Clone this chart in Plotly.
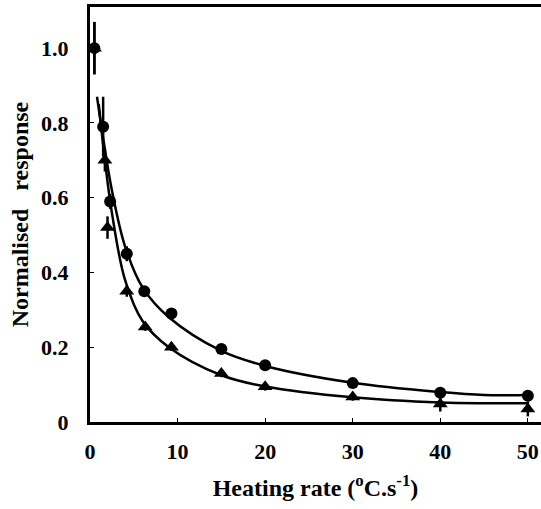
import plotly.graph_objects as go

# Data
circ_x = [0.5, 1.5, 2.3, 4.2, 6.2, 9.3, 15, 20, 30, 40, 50]
circ_y = [1.0, 0.79, 0.59, 0.45, 0.35, 0.29, 0.195, 0.152, 0.104, 0.078, 0.07]
circ_err = [0.07, 0.08, 0.02, 0.02, 0.01, 0.015, 0.01, 0.01, 0.01, 0.01, 0.01]

tri_x = [0.5, 1.7, 2.0, 4.2, 6.3, 9.3, 15, 20, 30, 40, 50]
tri_y = [1.0, 0.70, 0.52, 0.35, 0.254, 0.2, 0.13, 0.094, 0.067, 0.048, 0.035]
tri_err = [0.07, 0.03, 0.03, 0.015, 0.01, 0.01, 0.01, 0.01, 0.01, 0.02, 0.02]

fit1_x = [0.8, 1.5, 2.5, 4, 6, 9, 15, 20, 30, 40, 45, 50]
fit1_y = [0.87, 0.76, 0.62, 0.47, 0.36, 0.28, 0.19, 0.15, 0.105, 0.08, 0.072, 0.072]

fit2_x = [1.0, 1.7, 2.5, 4, 6, 9, 15, 20, 30, 40, 45, 50]
fit2_y = [0.85, 0.70, 0.56, 0.38, 0.27, 0.2, 0.125, 0.095, 0.066, 0.052, 0.05, 0.05]

x_ticks = [0, 10, 20, 30, 40, 50]
y_ticks = [0, 0.2, 0.4, 0.6, 0.8, 1.0]
y_tick_text = ["0", "0.2", "0.4", "0.6", "0.8", "1.0"]

fig = go.Figure()
fig.add_trace(go.Scatter(x=fit1_x, y=fit1_y, mode="lines", line=dict(color="black", width=2.5, shape="spline"), showlegend=False))
fig.add_trace(go.Scatter(x=fit2_x, y=fit2_y, mode="lines", line=dict(color="black", width=2.5, shape="spline"), showlegend=False))
fig.add_trace(go.Scatter(x=circ_x, y=circ_y, mode="markers",
                         marker=dict(symbol="circle", size=12, color="black"),
                         error_y=dict(type="data", array=circ_err, color="black", thickness=2.5, width=0),
                         showlegend=False))
fig.add_trace(go.Scatter(x=tri_x, y=tri_y, mode="markers",
                         marker=dict(symbol="triangle-up", size=13, color="black"),
                         error_y=dict(type="data", array=tri_err, color="black", thickness=2.5, width=0),
                         showlegend=False))

tick_font = dict(family="Liberation Serif", size=22, color="black")
title_font = dict(family="Liberation Serif", size=24, color="black")
fig.update_layout(
    width=541, height=509,
    margin=dict(l=90, r=0, t=7, b=87),
    paper_bgcolor="white", plot_bgcolor="white",
    font=tick_font,
    xaxis=dict(range=[0, 51.5], tickvals=x_ticks, ticktext=[f"<b>{v}</b>" for v in x_ticks],
               tickfont=tick_font,
               showline=True, linecolor="black", linewidth=3, mirror=True,
               ticks="inside", ticklen=4, tickcolor="black", showgrid=False, zeroline=False,
               ticklabelstandoff=8,
               title=dict(text="<b>Heating rate (<sup>o</sup>C.s<sup>-1</sup>)</b>", standoff=16, font=title_font)),
    yaxis=dict(range=[0, 1.11], tickvals=y_ticks, ticktext=[f"<b>{t}</b>" for t in y_tick_text],
               tickfont=tick_font,
               showline=True, linecolor="black", linewidth=3,
               ticks="inside", ticklen=4, tickcolor="black", showgrid=False, zeroline=False,
               ticklabelstandoff=14,
               title=dict(text="<b>Normalised   response</b>", standoff=6, font=title_font)),
)
fig.write_html("out.html")
